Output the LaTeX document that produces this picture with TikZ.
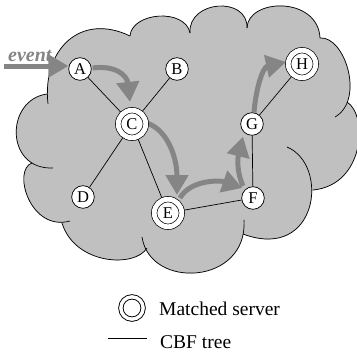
\documentclass[tikz,border=0pt]{standalone}
\usepackage{fontspec}
\setmainfont{Liberation Serif}
\usetikzlibrary{arrows.meta,calc}
\definecolor{cloudgray}{HTML}{C0C0C0}
\definecolor{flowgray}{HTML}{858585}
\pgfdeclarelayer{bg}
\pgfsetlayers{bg,main}
\begin{document}
\begin{tikzpicture}[x=1pt,y=-1pt,
  srv/.style={circle,draw,fill=white,line width=0.7pt,minimum size=22.6pt,inner sep=0pt,font=\fontsize{16.5}{17}\selectfont},
  matched/.style={circle,draw,fill=white,line width=0.7pt,double=white,double distance=4.8pt,minimum size=27.5pt,inner sep=0pt,font=\fontsize{16.5}{17}\selectfont},
  cloudfill/.style={fill=cloudgray,draw=cloudgray,line width=0.8pt,line join=round},
  cloudline/.style={draw=black,line width=0.7pt},
  edge/.style={draw=black,line width=0.7pt},
  flow/.style={draw=flowgray,line width=5pt,-{Triangle[length=20pt,width=22pt]}},
  legtext/.style={anchor=base west,inner sep=0pt,font=\fontsize{19.5}{20}\selectfont}]
\useasboundingbox (0,0) rectangle (357,356);
\def\cloudbumps{{48,104}/{42,50}/{80,12}/{130,36},
  {130,36}/{132,12}/{185,8}/{190,33},
  {190,33}/{188,0}/{248,-4}/{247,28},
  {247,28}/{248,-2}/{318,-4}/{320,38},
  {320,38}/{345,36}/{365,100}/{335,117},
  {347,102}/{368,115}/{365,185}/{313,190},
  {287,147}/{330,165}/{318,262}/{243,234},
  {244,220}/{248,285}/{150,290}/{142,237},
  {147,248}/{135,268}/{75,265}/{62,223},
  {70,221}/{30,232}/{12,170}/{32,163},
  {47,94}/{5,100}/{5,170}/{53,168}}
\begin{pgfonlayer}{bg}
  \path[cloudfill] (47,94) -- (130,36) -- (190,33) -- (247,28) -- (320,38) -- (347,102) -- (313,190) -- (243,234) -- (147,248) -- (62,223) -- (32,163) -- cycle;
  \foreach \p/\a/\b/\q in \cloudbumps {\path[cloudfill] (\p) .. controls (\a) and (\b) .. (\q) -- cycle;}
  \foreach \p/\a/\b/\q in \cloudbumps {\draw[cloudline] (\p) .. controls (\a) and (\b) .. (\q);}
\end{pgfonlayer}
% servers
\node[srv] (A) at (80,69) {A};
\node[srv] (B) at (177,69) {B};
\node[matched] (C) at (132,124) {C};
\node[srv] (D) at (83,197) {D};
\node[matched] (E) at (168,213) {E};
\node[srv] (F) at (253,198) {F};
\node[srv] (G) at (252,124) {G};
\node[matched] (H) at (302,64) {H};
% event label
\coordinate (evstart) at (4,66);
\node[anchor=base west,inner sep=0pt,text=flowgray,font=\fontsize{20}{20}\selectfont\bfseries\itshape] (ev) at (8,61) {event};
\begin{pgfonlayer}{bg}
  % CBF tree
  \draw[edge] (A) -- (C);
  \draw[edge] (B) -- (C);
  \draw[edge] (C) -- (D);
  \draw[edge] (C) -- (E);
  \draw[edge] (E) -- (F);
  \draw[edge] (F) -- (G);
  \draw[edge] (G) -- (H);
  % event flow
  \draw[flow] (evstart) -- (evstart -| A.west);
  \draw[flow] ($(A.east)+(1,-1)$) .. controls +(22,-3) and +(-3,-27) .. ($(C.north)+(-2,-8)$);
  \draw[flow] ($(C.east)+(1,-1)$) .. controls +(22,8) and +(0,-35) .. ($(E.center)+(9,-18)$);
  \draw[flow] ($(E.center)+(12,-15)$) .. controls +(10,-18) and +(-23,-8) .. ($(F.west)+(1,-10)$);
  \draw[flow] ($(F.center)+(-10,-12)$) .. controls +(-7,-16) and +(-5,20) .. ($(G.south)+(-9,1)$);
  \draw[flow] ($(G.north)+(2,0)$) .. controls +(2,-25) and +(-23,5) .. ($(H.center)+(-16,-2)$);
\end{pgfonlayer}
% legend
\node[circle,draw,line width=0.9pt,double=white,double distance=3.4pt,minimum size=22.3pt,inner sep=0pt] (lg) at (132,308) {};
\node[legtext] (lgt) at (159,315) {Matched server};
\coordinate (l1) at (108,338);
\coordinate (l2) at (147,338);
\draw[line width=0.9pt] (l1) -- (l2);
\node[legtext] (lt) at (160,348) {CBF tree};
\end{tikzpicture}
\end{document}
